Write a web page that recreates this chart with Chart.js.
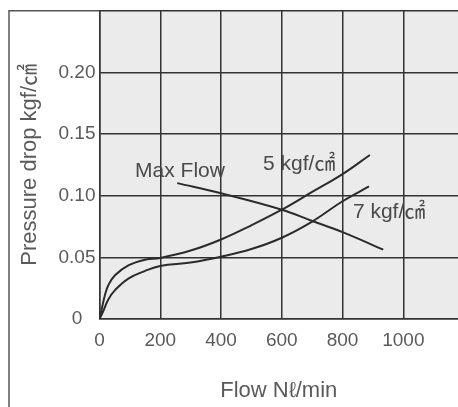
<!DOCTYPE html>
<html>
<head>
<meta charset="utf-8">
<script src="https://cdn.jsdelivr.net/npm/chart.js@4"></script>
<style>
  html, body { margin: 0; padding: 0; background: #ffffff; }
  #wrap { width: 458px; height: 407px; }
</style>
</head>
<body>
<div id="wrap"><canvas id="c" width="458" height="407"></canvas></div>
<script>
// ---- data ----
const xTickValues = [0, 200, 400, 600, 800, 1000];
const xTickLabels = ['0', '200', '400', '600', '800', '1000'];
const yTickValues = [0, 0.05, 0.10, 0.15, 0.20];
const yTickLabels = ['0', '0.05', '0.10', '0.15', '0.20'];

// 5 kgf/㎠ curve
const flow5 = [0, 9, 18, 29, 51, 95, 150, 200, 300, 400, 500, 600, 700, 800, 890];
const drop5 = [0, 0.0099, 0.0194, 0.0274, 0.0355, 0.0435, 0.0481, 0.0495, 0.0555, 0.0645, 0.0760, 0.0886, 0.1030, 0.1175, 0.1330];

// 7 kgf/㎠ curve
const flow7 = [0, 14, 29, 51, 95, 150, 200, 300, 400, 500, 600, 700, 800, 887];
const drop7 = [0, 0.0073, 0.0159, 0.0234, 0.0328, 0.0390, 0.0430, 0.0458, 0.0505, 0.0567, 0.0659, 0.0790, 0.0955, 0.1075];

// Max Flow line
const flowMax = [256, 400, 600, 700, 800, 934];
const dropMax = [0.1102, 0.1019, 0.0886, 0.0795, 0.0704, 0.0562];

// curve labels, anchored in data units
const labelTexts = ['Max Flow', '5 kgf/㎠', '7 kgf/㎠'];
const labelFlow = [117, 538, 834];
const labelDrop = [0.120, 0.1258, 0.0863];

// ---- build ----
const pts = (xs, ys) => xs.map((x, i) => ({ x: x, y: ys[i] }));
const FONT = '"Liberation Sans", Arial, "Noto Sans CJK KR", sans-serif';
const lineStyle = {
  borderColor: '#2b2b2b', borderWidth: 2, pointRadius: 0, pointHoverRadius: 0,
  showLine: true, fill: false, tension: 0.4
};

const framePlugin = {
  id: 'frame',
  beforeDraw(chart) {
    const { ctx, chartArea: a } = chart;
    ctx.save();
    ctx.fillStyle = '#ffffff';
    ctx.fillRect(0, 0, chart.width, chart.height);
    ctx.fillStyle = '#ebebeb';
    ctx.fillRect(a.left, a.top, a.right - a.left, a.bottom - a.top);
    ctx.restore();
  },
  afterDraw(chart) {
    const { ctx, chartArea: a } = chart;
    ctx.save();
    ctx.strokeStyle = '#555555';
    ctx.lineWidth = 1.5;
    ctx.beginPath();
    ctx.moveTo(9, chart.height);
    ctx.lineTo(9, a.top);
    ctx.lineTo(a.left, a.top);
    ctx.stroke();
    ctx.strokeStyle = '#333333';
    ctx.beginPath();
    ctx.moveTo(a.left, a.top);
    ctx.lineTo(chart.width, a.top);
    ctx.stroke();
    ctx.restore();
  },
  afterDatasetsDraw(chart) {
    const { ctx, scales } = chart;
    ctx.save();
    ctx.fillStyle = '#4a4a4a';
    ctx.textAlign = 'left';
    ctx.textBaseline = 'middle';
    ctx.font = '21px ' + FONT;
    labelTexts.forEach((t, i) => {
      ctx.fillText(t, scales.x.getPixelForValue(labelFlow[i]), scales.y.getPixelForValue(labelDrop[i]));
    });
    ctx.restore();
  }
};

new Chart(document.getElementById('c'), {
  type: 'scatter',
  data: {
    datasets: [
      Object.assign({ label: '5 kgf/㎠', data: pts(flow5, drop5) }, lineStyle),
      Object.assign({ label: '7 kgf/㎠', data: pts(flow7, drop7) }, lineStyle),
      Object.assign({ label: 'Max Flow', data: pts(flowMax, dropMax) }, lineStyle)
    ]
  },
  options: {
    responsive: false,
    animation: false,
    events: [],
    layout: { padding: { top: 10.7, left: 0, right: 0, bottom: 0 } },
    plugins: { legend: { display: false }, tooltip: { enabled: false } },
    scales: {
      x: {
        type: 'linear', min: 0, max: 1180,
        afterBuildTicks(s) { s.ticks = xTickValues.map(v => ({ value: v })); },
        afterFit(s) { s.height = 88; s.paddingRight = 0; },
        grid: { color: '#333333', lineWidth: 1.5, drawTicks: false },
        border: { color: '#333333', width: 1.5 },
        ticks: {
          color: '#5a5a5a', padding: 10, font: { family: FONT, size: 19 }, maxRotation: 0,
          callback(v) { const i = xTickValues.indexOf(v); return i >= 0 ? xTickLabels[i] : ''; }
        },
        title: { display: true, text: 'Flow Nℓ/min', color: '#5a5a5a', font: { family: FONT, size: 22 }, padding: { top: 0, bottom: 3 } }
      },
      y: {
        type: 'linear', min: 0, max: 0.25,
        afterBuildTicks(s) { s.ticks = yTickValues.map(v => ({ value: v })); },
        afterFit(s) { s.width = 99.5; s.paddingTop = 0; s.paddingBottom = 0; },
        grid: { color: '#333333', lineWidth: 1.5, drawTicks: false },
        border: { color: '#333333', width: 1.5 },
        ticks: {
          color: '#5a5a5a', padding: 4, crossAlign: 'center', font: { family: FONT, size: 19 },
          callback(v) { const i = yTickValues.indexOf(v); return i >= 0 ? yTickLabels[i] : ''; }
        },
        title: { display: true, text: 'Pressure drop kgf/㎠', color: '#5a5a5a', font: { family: FONT, size: 22 }, padding: { top: 17, bottom: 0 } }
      }
    }
  },
  plugins: [framePlugin]
});
</script>
</body>
</html>
